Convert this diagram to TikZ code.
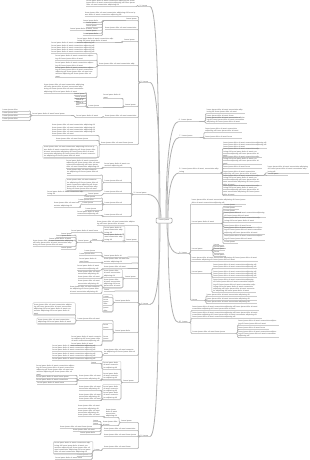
\documentclass[tikz,border=0pt]{standalone}
\usepackage{fontspec}
\setmainfont{Liberation Sans}
\usetikzlibrary{fit}
\newcommand\wa{lorem ipsum dolor sit amet }
\newcommand\wb{consectetur adipiscing elit }
\newcommand\fillr[1]{\foreach\ii in {1,...,#1}{\ifodd\ii\relax\wa\else\wb\fi}}
\tikzset{
  every node/.style={inner sep=0.25pt, font=\fontsize{1.8}{2.2}\selectfont, text=black!70},
  uline/.style={draw=black!20, line width=0.5pt},
  lt/.style={anchor=south east, align=left, text width=#1},
  rt/.style={anchor=south west, align=left, text width=#1},
  brk/.style={draw=black!30, line width=0.6pt, rounded corners=1pt},
  mainl/.style={draw=black!30, line width=0.8pt},
  bnd/.style={draw=black!20, line width=0.45pt, rounded corners=1pt, inner sep=0.8pt},
}
\newcommand\lnd[5]{\node[lt=#4pt] (#1) at (#2,#3) {#5}; \draw[uline] (#1.south west) -- (#1.south east);}
\newcommand\rnd[5]{\node[rt=#4pt] (#1) at (#2,#3) {#5}; \draw[uline] (#1.south west) -- (#1.south east);}
\newcommand\bkl[3][1.5]{\foreach \cn in {#3}{\draw[brk] (#2.south west) -- ++(-#1,0) |- (\cn.south east);}}
\newcommand\bkr[3][1.5]{\foreach \cn in {#3}{\draw[brk] (#2.south east) -- ++(#1,0) |- (\cn.south west);}}
\begin{document}
\begin{tikzpicture}[x=1pt,y=-1pt]
\useasboundingbox (0,0) rectangle (310,460);
\fill[white] (0,0) rectangle (310,460);
% centre
\node[draw=black!40, line width=0.5pt, rounded corners=1pt, minimum width=16pt, minimum height=5pt, inner sep=0.5pt] (C) at (164,220.5) {Lorem ipsum};
% main branches
\lnd{L1}{150}{6.5}{10}{1. Lorem}
\lnd{L2}{150}{82.5}{9}{2. Lorem}
\lnd{L3}{148}{194.5}{14}{3. Lorem ipsum}
\lnd{L4}{150}{304.5}{9}{4. Lorem}
\lnd{L5}{150}{436.5}{9}{5. Lorem}
\rnd{R1}{178.5}{121.5}{20}{6. Lorem ipsum}
\rnd{R2}{179}{137.5}{20}{7. Lorem ipsum}
\rnd{R3}{179}{173}{41}{8. Lorem ipsum dolor sit amet, consectetur adipiscing}
\rnd{R4}{179}{253.5}{9}{9. Lorem}
\rnd{R5}{178.5}{322.5}{10}{10. Lorem}
\draw[mainl] (L1.south east) .. controls +(7,0) and +(0,-120) .. ([xshift=-5pt]C.north);
\draw[mainl] (L2.south east) .. controls +(7,0) and +(0,-80) .. ([xshift=-4pt]C.north);
\draw[mainl] (L3.south east) .. controls +(8,0) and +(0,-14) .. ([xshift=-3pt]C.north);
\draw[mainl] (L4.south east) .. controls +(7,0) and +(0,50) .. ([xshift=-4pt]C.south);
\draw[mainl] (L5.south east) .. controls +(7,0) and +(0,130) .. ([xshift=-5pt]C.south);
\draw[mainl] (R1.south west) .. controls +(-8,0) and +(0,-60) .. ([xshift=2pt]C.north);
\draw[mainl] (R2.south west) .. controls +(-8,0) and +(0,-50) .. ([xshift=3pt]C.north);
\draw[mainl] (R3.south west) .. controls +(-8,0) and +(0,-25) .. ([xshift=4pt]C.north);
\draw[mainl] (R4.south west) .. controls +(-8,0) and +(0,20) .. ([xshift=3pt]C.south);
\draw[mainl] (R5.south west) .. controls +(-8,0) and +(0,60) .. ([xshift=4pt]C.south);
% ---- L1
\lnd{a1}{137}{6.5}{50}{\fillr{6}}
\bkl{L1}{a1}
% ---- L2
\lnd{b1}{137.5}{16.5}{52}{\fillr{4}}
\lnd{b2}{137.5}{20.5}{11}{Lorem ipsum}
\lnd{b2a}{101.5}{22}{18}{Lorem ipsum dolor}
\lnd{b2b}{101.5}{24.7}{15}{Lorem ipsum}
\lnd{b2c}{101.5}{27.4}{15}{Lorem ipsum}
\lnd{b2d}{101.5}{30.1}{31}{Lorem ipsum dolor sit amet, lorem}
\lnd{b2e}{101.5}{32.8}{15}{Lorem ipsum}
\lnd{b2f}{101.5}{35.5}{18}{Lorem ipsum dolor}
\bkl[23]{b2}{b2a,b2b,b2c,b2d,b2e,b2f}
\lnd{b3}{137.5}{29.5}{32}{\wa consectetur}
\lnd{b4}{137.5}{41.5}{13}{Lorem ipsum}
\lnd{b4a}{115}{42.5}{37}{\fillr{3}}
\bkl{b4}{b4a}
\lnd{b5}{137.5}{65.5}{38}{\wa consectetur adip}
\lnd{b5a}{96}{53.5}{44}{\fillr{10}}
\lnd{b5b}{96}{60}{40}{\fillr{3}}
\lnd{b5c}{96}{67}{40}{\fillr{3}}
\lnd{b5d}{96}{77.5}{40}{\fillr{7}}
\bkl{b5}{b5a,b5b,b5c,b5d}
\lnd{b6}{137.5}{106.5}{12}{Lorem ipsum}
\lnd{b6a}{123}{98.5}{19}{\wa}
\lnd{b6b}{103}{107.5}{14}{Lorem ipsum}
\bkl{b6}{b6a,b6b}
\lnd{b6c}{86.5}{93}{42}{\fillr{7}}
\lnd{b6d}{86.5}{95.6}{12}{Lorem ipsum}
\lnd{b6e}{86.5}{98.2}{11}{Lorem ipsum}
\lnd{b6f}{86.5}{100.8}{12}{Lorem ipsum}
\lnd{b6g}{86.5}{103.4}{10}{Lorem ipsum}
\lnd{b6h}{86.5}{106}{10}{Lorem ipsum}
\bkl{b6b}{b6c,b6d,b6e,b6f,b6g,b6h}
\lnd{b7}{137.5}{117.5}{32}{\wa consectetur}
\lnd{b7a}{101}{117.5}{24}{\wa}
\lnd{b7b}{71}{115.5}{38}{\wa lorem ipsum}
\lnd{b7c}{29}{111}{26}{Lorem ipsum dolor}
\lnd{b7d}{29}{114}{26}{Lorem ipsum dolor}
\lnd{b7e}{29}{117}{26}{Lorem ipsum dolor}
\lnd{b7f}{29}{120.5}{26}{Lorem ipsum dolor}
\bkl{b7}{b7a}
\bkl{b7a}{b7b}
\bkl{b7b}{b7c,b7d,b7e,b7f}
\lnd{b8}{137.5}{144.5}{36}{\wa lorem ipsum}
\lnd{b8a}{96.5}{135.5}{44}{\fillr{9}}
\lnd{b8b}{96.5}{140.5}{40}{\wa lorem ipsum}
\lnd{b8c}{96.5}{157.5}{52}{\fillr{11}}
\bkl{b8}{b8a,b8b,b8c}
\node[bnd, fit=(b8c)] (bx1) {};
\bkl{L2}{b1,b2,b3,b4,b5,b6,b7,b8}
% ---- L3
\lnd{c1}{131}{167.5}{26}{\fillr{2}}
\lnd{c1a}{101}{168.5}{34}{\fillr{6}}
\bkl{c1}{c1a}
\lnd{c2}{131}{182.5}{26}{Lorem ipsum dolor sit}
\lnd{c2a}{100.5}{175}{33}{\fillr{3}}
\lnd{c2b}{100.5}{190.5}{33}{\fillr{7}}
\bkl{c2}{c2a,c2b}
\node[bnd, fit=(c2b)] (bx2) {};
\lnd{c3}{131}{193.5}{26}{Lorem ipsum dolor sit}
\lnd{c3a}{101.5}{195.5}{13}{Lorem ipsum}
\lnd{c3b}{86}{195.5}{38}{\fillr{2}}
\bkl{c3}{c3a}
\bkl{c3a}{c3b}
\lnd{c4}{131}{204.5}{26}{Lorem ipsum dolor sit}
\lnd{c4a}{101}{198}{16}{Lorem ipsum}
\lnd{c4b}{101}{201}{22}{Lorem ipsum dolor}
\lnd{c4c}{101}{204}{18}{Lorem ipsum}
\lnd{c4d}{80.5}{207}{26}{\fillr{2}}
\lnd{c4e}{101}{210.5}{15}{Lorem ipsum}
\bkl{c4}{c4a,c4b,c4c,c4e}
\bkl{c4c}{c4d}
\lnd{c5}{131}{216.5}{26}{Lorem ipsum dolor sit}
\lnd{c5a}{101}{215.5}{23}{\fillr{2}}
\bkl{c5}{c5a}
\bkl{L3}{c1,c2,c3,c4,c5}
% ---- L4
\lnd{d0}{137.5}{225.5}{40}{\fillr{3}}
\lnd{d1}{137.5}{241.5}{11}{Lorem ipsum}
\lnd{d1a}{124}{234}{19}{\fillr{2}}
\lnd{d1b}{124}{241}{19}{\fillr{2}}
\bkl{d1}{d1a,d1b}
\node[bnd, fit=(d1a)(d1b)] (bx3) {};
\lnd{d1e}{102}{232}{30}{\wa lorem}
\bkl{d1a}{d1e}
\lnd{d1c}{101.5}{240.5}{9}{Lorem}
\bkl{d1b}{d1c}
\lnd{d1d}{90.5}{242.5}{12}{Lorem ipsum}
\bkl{d1c}{d1d}
\lnd{d1f}{74.5}{235}{13}{Lorem ipsum}
\lnd{d1g}{74.5}{237.5}{18}{Lorem ipsum dolor}
\lnd{d1h}{74.5}{240}{25}{Lorem ipsum dolor sit amet}
\lnd{d1i}{74.5}{246.5}{41}{\fillr{5}}
\lnd{d1j}{74.5}{249.5}{13}{Lorem ipsum}
\bkl{d1d}{d1f,d1g,d1h,d1i,d1j}
\lnd{d2}{127.5}{257}{23}{Lorem ipsum dolor sit}
\lnd{d2a}{101}{252.5}{16}{Lorem ipsum}
\lnd{d2b}{101}{255.5}{21}{Lorem ipsum dolor}
\bkl{d2}{d2a,d2b}
\lnd{d3}{131.5}{263}{27}{\fillr{2}}
\lnd{d3a}{101}{262.5}{21}{\wa lorem}
\bkl{d3}{d3a}
\lnd{d4}{127.5}{268.5}{23}{\wa}
\lnd{d4a}{101}{270}{23}{\fillr{2}}
\bkl{d4}{d4a}
\lnd{d5}{137.5}{278.5}{12}{Lorem ipsum}
\lnd{d5a}{121.5}{277}{17}{\fillr{2}}
\lnd{d5b}{121.5}{287.5}{17}{\fillr{3}}
\bkl{d5}{d5a,d5b}
\node[bnd, fit=(d5a)(d5b)] (bx4) {};
\lnd{d5c}{101.5}{278}{23}{\fillr{3}}
\bkl{d5a}{d5c}
\lnd{d5d}{101.5}{285}{23}{\fillr{2}}
\lnd{d5e}{101.5}{293}{31}{\fillr{4}}
\bkl{d5b}{d5d,d5e}
\lnd{d6}{114.5}{291}{10}{Lorem}
\lnd{d7}{137.5}{302.5}{22}{Lorem ipsum dolor}
\lnd{d7a}{112}{297.5}{8}{Lorem}
\lnd{d7b}{112}{305}{8}{lorem ipsum dolor}
\lnd{d7c}{112}{311.5}{8}{ipsum dolor}
\bkl{d7}{d7a,d7b,d7c}
\node[bnd, fit=(d7a)(d7c)] (bx5) {};
\lnd{d8}{137.5}{332.5}{22}{Lorem ipsum dolor}
\lnd{d8a}{112}{320.5}{34}{Lorem ipsum dolor sit amet}
\lnd{d8b}{112}{329}{8}{lorem ipsum}
\lnd{d8c}{112}{340.5}{8}{lorem ipsum}
\bkl{d8}{d8a,d8b,d8c}
\node[bnd, fit=(d8b)(d8c)] (bx6) {};
\lnd{d8d}{102}{345}{30}{\fillr{5}}
\bkl[1]{d8c}{d8d}
\lnd{d8e}{74.5}{314.5}{40}{\fillr{7}}
\lnd{d8f}{74.5}{323.5}{36}{\fillr{3}}
\bkl{d8a}{d8e,d8f}
\node[bnd, fit=(d8e)] (bx7) {};
\node[bnd, fit=(d8f)] (bx8) {};
\lnd{d9}{137.5}{355}{33}{\fillr{3}}
\lnd{d9a}{101}{351.5}{48}{\fillr{6}}
\lnd{d9b}{101}{357.5}{48}{\fillr{4}}
\lnd{d9c}{101}{360.5}{48}{\fillr{2}}
\bkl{d9}{d9a,d9b,d9c}
\lnd{d10}{137.5}{382.5}{14}{Lorem ipsum}
\lnd{d10a}{120}{369}{16}{\fillr{2}}
\lnd{d10b}{120}{379.5}{16}{\fillr{2}}
\lnd{d10c}{120}{399}{16}{\fillr{4}}
\bkl{d10}{d10a,d10b,d10c}
\node[bnd, fit=(d10a)(d10b)] (bx9) {};
\node[bnd, fit=(d10c)] (bx10) {};
\lnd{x1}{101.5}{363.5}{10}{Lorem}
\bkl{d10a}{x1}
\lnd{x2}{101.5}{380}{22}{\fillr{2}}
\bkl{d10b}{x2}
\lnd{x3}{77}{375.5}{40}{\fillr{7}}
\lnd{x4}{77}{378.5}{40}{\wa lorem ipsum}
\lnd{x5}{77}{381.5}{40}{\wa consectetur}
\lnd{x6}{77}{384.5}{39}{\wa lorem}
\bkl{x2}{x3,x4,x5,x6}
\lnd{x7}{101.5}{390.5}{22}{\fillr{2}}
\lnd{x8}{101.5}{400.5}{22}{\fillr{3}}
\bkl{d10c}{x7,x8}
\bkl{L4}{d0,d1,d2,d3,d4,d5,d6,d7,d8,d9,d10}
% ---- L5
\lnd{e1}{137.5}{422.5}{16}{Lorem ipsum}
\lnd{e1a}{118.5}{417.5}{12}{\fillr{2}}
\lnd{e1b}{118.5}{425.5}{15}{\wa}
\bkl{e1}{e1a,e1b}
\lnd{e1c}{102.5}{416.5}{24}{\fillr{5}}
\bkl{e1a}{e1c}
\lnd{e1d}{100.5}{421.5}{7}{Lorem}
\lnd{e1e}{100.5}{424.5}{7}{Lorem}
\lnd{e1f}{100.5}{428.5}{40}{\wa lorem ipsum}
\lnd{e1g}{100.5}{431}{27}{\wa}
\lnd{e1h}{100.5}{434}{20}{Lorem ipsum dolor}
\bkl{e1b}{e1d,e1e,e1f,e1g,e1h}
\lnd{e2}{137.5}{430.5}{33}{\wa consectetur}
\lnd{e3}{137.5}{436}{33}{\wa lorem ipsum}
\lnd{e4}{137.5}{448.5}{33}{\wa lorem}
\lnd{e4a}{102}{450.5}{7}{Lorem}
\bkl{e4}{e4a}
\lnd{e4b}{92}{453.5}{37}{\fillr{8}}
\lnd{e4c}{92}{456}{14}{Lorem ipsum}
\lnd{e4d}{92}{459}{36}{\wa lorem}
\bkl{e4a}{e4b,e4c,e4d}
\node[bnd, fit=(e4b)] (bx11) {};
\bkl{L5}{e1,e2,e3,e4}
% ---- R1, R2
\rnd{f1}{206.5}{113.5}{38}{\fillr{3}}
\rnd{f2}{206.5}{117.5}{33}{\wa lorem}
\rnd{f3}{206.5}{123.5}{40}{\fillr{5}}
\bkr[6]{R1}{f1,f2,f3}
\rnd{g1}{205}{132.5}{36}{\fillr{3}}
\rnd{g2}{205}{138.5}{36}{\wa lorem}
\bkr[4]{R2}{g1,g2}
% ---- R3
\rnd{h1}{223}{148.5}{43}{\fillr{5}}
\rnd{h2}{223}{157}{38}{\fillr{5}}
\rnd{h3}{223}{164.5}{38}{\fillr{5}}
\rnd{h4}{223}{168.5}{38}{\wa lorem}
\rnd{h5}{223}{175.5}{35}{\fillr{3}}
\rnd{h5a}{267.5}{173}{41}{\fillr{4}}
\rnd{h5b}{267.5}{175.5}{20}{Lorem ipsum}
\bkr[6]{h5}{h5a,h5b}
\rnd{h6}{223}{185.5}{38}{\fillr{7}}
\rnd{h7}{223}{195.5}{38}{\fillr{7}}
\bkr{R3}{h1,h2,h3,h4,h5,h6,h7}
% ---- R4
\rnd{k1}{191.5}{204}{54}{\fillr{4}}
\rnd{k2}{191.5}{223.5}{29}{Lorem ipsum dolor sit amet}
\rnd{k2a}{224}{206.5}{17}{Lorem ipsum}
\rnd{k2b}{224}{209.5}{14}{Lorem ipsum}
\rnd{k2c}{224}{212.5}{16}{Lorem ipsum}
\rnd{k2d}{224}{217}{41}{\fillr{3}}
\rnd{k2e}{224}{222}{37}{\fillr{3}}
\rnd{k2f}{224}{227}{27}{\wa lorem}
\rnd{k2g}{224}{234}{40}{\fillr{5}}
\rnd{k2h}{224}{240}{40}{\fillr{3}}
\rnd{k2i}{224}{243.5}{13}{Lorem ipsum}
\bkr{k2}{k2a,k2b,k2c,k2d,k2e,k2f,k2g,k2h,k2i}
\rnd{k3}{191.5}{250.5}{19}{Lorem ipsum}
\rnd{k3a}{213.5}{245.5}{10}{Lorem}
\rnd{k3b}{213.5}{248}{12}{Lorem ipsum}
\rnd{k3c}{213.5}{250.5}{11}{Lorem ipsum}
\rnd{k3d}{213.5}{253}{10}{Lorem}
\rnd{k3e}{213.5}{256}{12}{Lorem ipsum}
\bkr{k3}{k3a,k3b,k3c,k3d,k3e}
\rnd{k4}{191.5}{261.5}{66}{\fillr{5}}
\rnd{k5}{191.5}{273.5}{18}{Lorem ipsum}
\rnd{k5a}{213}{268.5}{43}{\fillr{4}}
\rnd{k5b}{213}{277.5}{43}{\fillr{6}}
\rnd{k5c}{213}{292.5}{42}{\fillr{11}}
\bkr{k5}{k5a,k5b,k5c}
\rnd{k6}{191.5}{300.5}{12}{Lorem}
\rnd{k6a}{206.5}{296}{50}{\fillr{2}}
\rnd{k6b}{206.5}{300}{50}{\fillr{2}}
\rnd{k6c}{206.5}{303.5}{50}{\fillr{2}}
\bkr{k6}{k6a,k6b,k6c}
\bkr{R4}{k1,k2,k3,k4,k5,k6}
% ---- R5
\rnd{m1}{192}{310.5}{66}{\fillr{5}}
\rnd{m2}{192}{318.5}{69}{\fillr{8}}
\rnd{m3}{192}{333.5}{43}{Lorem ipsum dolor sit amet lorem ipsum}
\rnd{m3a}{238}{325}{40}{\fillr{3}}
\rnd{m3b}{238}{329.5}{30}{\wa lorem}
\rnd{m3c}{238}{337.5}{40}{\fillr{4}}
\bkr{m3}{m3a,m3b,m3c}
\bkr{R5}{m1,m2,m3}
\end{tikzpicture}
\end{document}
